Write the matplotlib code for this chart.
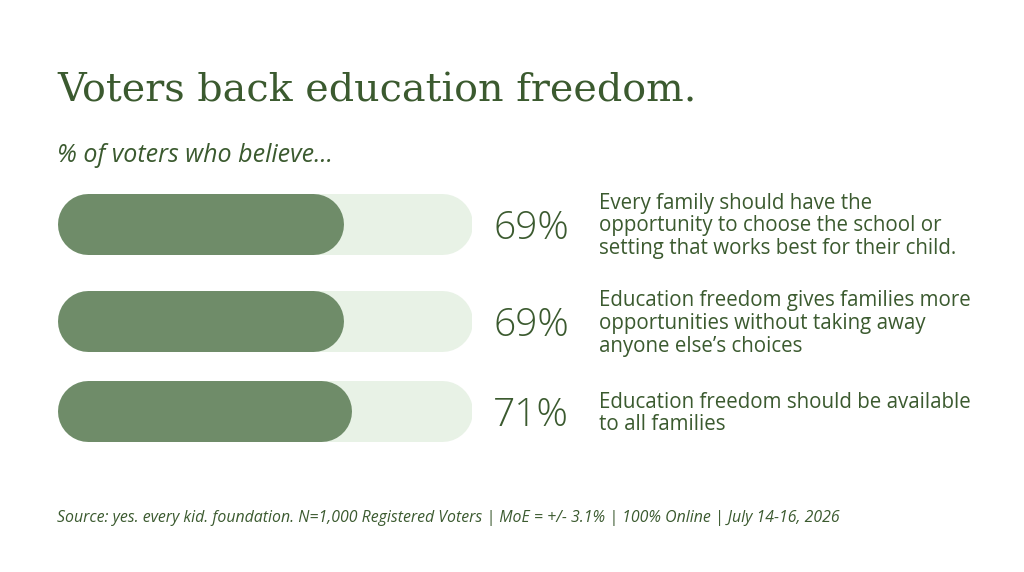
import matplotlib.pyplot as plt

# Data
statements = [
    "Every family should have the\nopportunity to choose the school or\nsetting that works best for their child.",
    "Education freedom gives families more\nopportunities without taking away\nanyone else\u2019s choices",
    "Education freedom should be available\nto all families",
]
percents = [69, 69, 71]
labels = ["69%", "69%", "71%"]

title = "Voters back education freedom."
subtitle = "% of voters who believe..."
source = ("Source: yes. every kid. foundation. N=1,000 Registered Voters | MoE = +/- 3.1% "
          "| 100% Online | July 14-16, 2026")

# Colours
dark = "#3b5a2f"
fill = "#6f8c69"
track = "#e8f2e6"

W, H = 1024, 572
fig = plt.figure(figsize=(W / 100, H / 100), dpi=100)
fig.patch.set_facecolor("white")

# layout axes in pixel units
page = fig.add_axes([0, 0, 1, 1])
page.set_xlim(0, W)
page.set_ylim(H, 0)
page.axis("off")

# bar axes: x in percent, y in pixel rows
bar_left, bar_width = 57, 415
row_y = [223.5, 321, 411]
bar_h = 61
bx = fig.add_axes([bar_left / W, 0, bar_width / W, 1])
bx.set_xlim(0, 100)
bx.set_ylim(H, 0)
bx.axis("off")

r = (bar_h / 2) / bar_width * 100  # cap radius in percent units
lw = bar_h * 72 / 100
for y, v in zip(row_y, percents):
    bx.plot([r, 100 - r], [y, y], color=track, lw=lw, solid_capstyle="round")
    bx.plot([r, v - r], [y, y], color=fill, lw=lw, solid_capstyle="round")

for y, lab, txt in zip(row_y, labels, statements):
    page.text(493, y + 5, lab, fontsize=28, color=dark, family="Open Sans",
              weight="light", va="center", ha="left")
    page.text(599, y + 2.5, txt, fontsize=14.8, color=dark, family="Open Sans",
              va="center", ha="left", linespacing=1.1)

page.text(57, 102, title, fontsize=28.5, color=dark, family="DejaVu Serif",
          va="baseline", ha="left")
page.text(57, 162, subtitle, fontsize=18, color=dark, family="Open Sans",
          style="italic", va="baseline", ha="left")
page.text(57, 522, source, fontsize=11.4, color=dark, family="Open Sans",
          style="italic", va="baseline", ha="left")

fig.savefig("out.png", dpi=100, facecolor="white")
